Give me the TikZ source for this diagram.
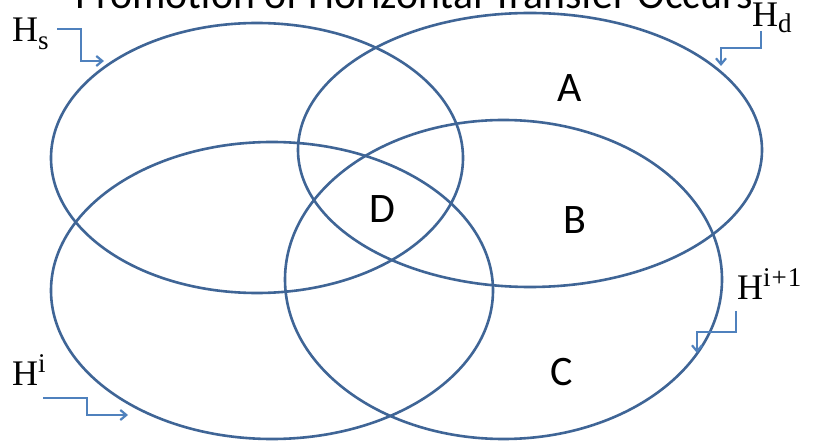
\documentclass[tikz,border=0pt]{standalone}
\usepackage{fontspec}
\setmainfont{Liberation Serif}
\newfontfamily\titlefont{Carlito}
\usetikzlibrary{shapes.geometric,arrows.meta}
\definecolor{ringblue}{HTML}{3F6596}
\definecolor{arrowblue}{HTML}{4F81BD}
\tikzset{
  ring/.style={ellipse, draw=ringblue, line width=2.6pt, inner sep=0pt, outer sep=0pt},
  regionlabel/.style={font=\titlefont\fontsize{42}{46}\selectfont, inner sep=0pt},
  setlabel/.style={anchor=base west, inner sep=0pt, font=\fontsize{36}{40}\selectfont},
  pointer/.style={draw=arrowblue, line width=2.2pt, -{Straight Barb[length=6pt,width=10pt]}},
}
\newcommand{\scriptpart}{\fontsize{27}{30}\selectfont}
\begin{document}
\begin{tikzpicture}[x=1pt,y=-1pt]
\clip (0,0) rectangle (817,446);
\fill[white] (0,0) rectangle (817,446);
% title (cut at the top, as in the reference)
\node[anchor=base, inner sep=0pt, font=\titlefont\fontsize{41.7}{50}\selectfont] (title) at (414,9) {Promotion of Horizontal Transfer Occurs};
% sets
\node[ring, minimum width=412pt, minimum height=270pt] (Hs) at (257,158) {};
\node[ring, minimum width=464pt, minimum height=274pt] (Hd) at (530,150) {};
\node[ring, minimum width=442pt, minimum height=297pt] (Hi) at (272,290.5) {};
\node[ring, minimum width=437pt, minimum height=319pt] (Hip) at (503.5,279.5) {};
% region labels
\node[regionlabel] (A) at (570,88) {A};
\node[regionlabel] (B) at (575,220) {B};
\node[regionlabel] (C) at (562,372) {C};
\node[regionlabel] (D) at (382,209) {D};
% set labels
\node[setlabel] (lHs) at (12,42) {H\raisebox{-8pt}{\scriptpart s}};
\node[setlabel] (lHd) at (752,27) {H\raisebox{-6pt}{\scriptpart d}};
\node[setlabel] (lHip) at (737,300) {H\raisebox{13pt}{\scriptpart i\kern1pt+\kern1pt1}};
\node[setlabel] (lHi) at (12,385) {H\raisebox{13pt}{\scriptpart i}};
% pointer ends
\coordinate (hsS) at (57,29);   \coordinate (hsE) at (104,61);
\coordinate (hdS) at (761,31);  \coordinate (hdE) at (721,66);
\coordinate (hipS) at (736,311); \coordinate (hipE) at (697,353);
\coordinate (hiS) at (43,398);  \coordinate (hiE) at (128,415);
\draw[pointer] (hsS) -- (81,29) |- (hsE);
\draw[pointer] (hdS) |- (721,48) -- (hdE);
\draw[pointer] (hipS) |- (697,332) -- (hipE);
\draw[pointer] (hiS) -- (87,398) |- (hiE);
\end{tikzpicture}
\end{document}
